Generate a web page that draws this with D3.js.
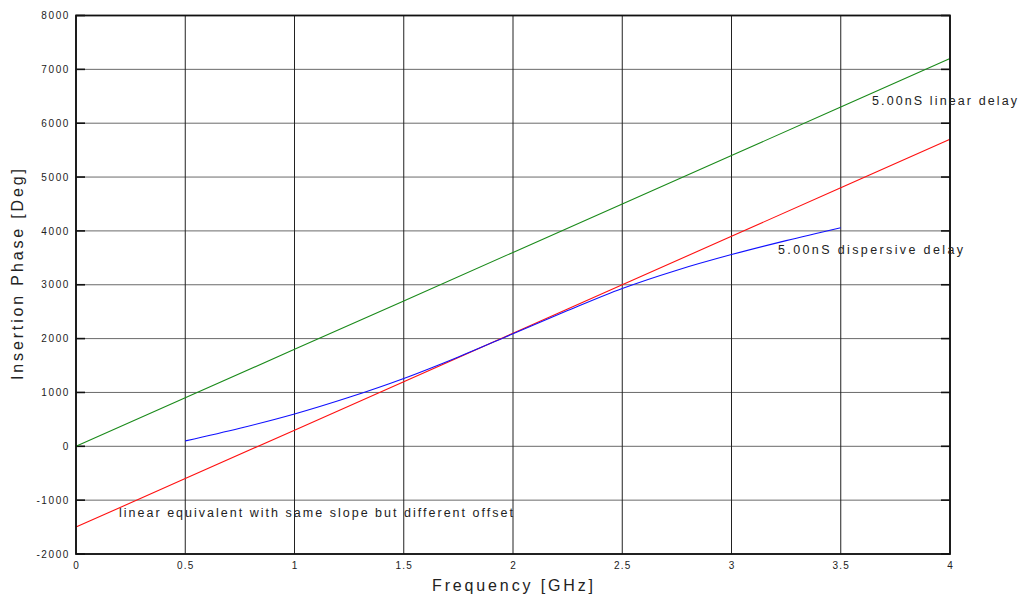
<!DOCTYPE html>
<html><head><meta charset="utf-8">
<script src="https://cdn.jsdelivr.net/npm/d3@7"></script>
<style>body{margin:0;background:#fff}svg{display:block}text{font-family:"Liberation Sans",Arial,sans-serif;fill:#222}</style>
</head><body>
<svg id="c" width="1021" height="597"></svg>
<script>
const freqLin = [0, 0.5, 1, 1.5, 2, 2.5, 3, 3.5, 4];
const linearDelay = [0, 900, 1800, 2700, 3600, 4500, 5400, 6300, 7200];
const linearEquiv = [-1500, -600, 300, 1200, 2100, 3000, 3900, 4800, 5700];
const freqDisp = [0.5, 0.75, 1, 1.25, 1.5, 1.75, 2, 2.25, 2.5, 2.75, 3, 3.25, 3.5];
const dispersive = [100, 335, 600, 910, 1260, 1660, 2090, 2520, 2930, 3270, 3560, 3820, 4060];
const xTicks = [0, 0.5, 1, 1.5, 2, 2.5, 3, 3.5, 4];
const yTicks = [-2000, -1000, 0, 1000, 2000, 3000, 4000, 5000, 6000, 7000, 8000];

const svg = d3.select('#c');
const L = 76, R = 950, T = 15.5, B = 554;
const x = d3.scaleLinear().domain([0, 4]).range([L, R]);
const y = d3.scaleLinear().domain([-2000, 8000]).range([B, T]);

// grid
svg.append('g').selectAll('line').data(yTicks).join('line')
  .attr('x1', L).attr('x2', R).attr('y1', d => y(d)).attr('y2', d => y(d))
  .attr('stroke', '#6a6a6a').attr('stroke-width', 1);
svg.append('g').selectAll('line').data(xTicks).join('line')
  .attr('y1', T).attr('y2', B).attr('x1', d => x(d)).attr('x2', d => x(d))
  .attr('stroke', '#222').attr('stroke-width', 1);
// inner ticks
svg.append('g').selectAll('line').data(yTicks).join('line')
  .attr('x1', L).attr('x2', L + 9).attr('y1', d => y(d)).attr('y2', d => y(d))
  .attr('stroke', '#111').attr('stroke-width', 1.6);
svg.append('g').selectAll('line').data(yTicks).join('line')
  .attr('x1', R - 9).attr('x2', R).attr('y1', d => y(d)).attr('y2', d => y(d))
  .attr('stroke', '#111').attr('stroke-width', 1.6);

// tick labels
const yAxis = d3.axisLeft(y).tickValues(yTicks).tickSize(0).tickPadding(6).tickFormat(d => String(d));
const ga = svg.append('g').attr('transform', `translate(${L},0)`).call(yAxis);
ga.select('.domain').remove();
ga.selectAll('text').style('font-size', '10px').style('letter-spacing', '1.6px').attr('fill', '#1a1a1a')
  .attr('font-family', null);
const xAxis = d3.axisBottom(x).tickValues(xTicks).tickSize(0).tickPadding(8).tickFormat(d => String(d));
const gb = svg.append('g').attr('transform', `translate(0,${B})`).call(xAxis);
gb.select('.domain').remove();
gb.selectAll('text').style('font-size', '10px').style('letter-spacing', '1.2px').attr('fill', '#1a1a1a').attr('font-family', null);

// lines
const line = (xs) => d3.line().x((d, i) => x(xs[i])).y(d => y(d));
svg.append('path').datum(linearDelay).attr('d', line(freqLin)).attr('fill', 'none').attr('stroke', '#1a8a1a').attr('stroke-width', 1.1);
svg.append('path').datum(linearEquiv).attr('d', line(freqLin)).attr('fill', 'none').attr('stroke', '#ff1010').attr('stroke-width', 1.1);
svg.append('path').datum(dispersive).attr('d', d3.line().curve(d3.curveMonotoneX).x((d, i) => x(freqDisp[i])).y(d => y(d))).attr('fill', 'none').attr('stroke', '#1010ff').attr('stroke-width', 1.1);

// frame
svg.append('rect').attr('x', L).attr('y', T).attr('width', R - L).attr('height', B - T)
  .attr('fill', 'none').attr('stroke', '#111').attr('stroke-width', 1.8);

// annotations
function label(t, px, py, len, size) {
  svg.append('text').attr('x', px).attr('y', py).attr('textLength', len).attr('lengthAdjust', 'spacing')
    .style('font-size', size + 'px').text(t);
}
label('5.00nS linear delay', 872, 105, 145, 12.5);
label('5.00nS dispersive delay', 778, 254, 185, 12.5);
label('linear equivalent with same slope but different offset', 119, 517, 394, 12.5);
label('Frequency [GHz]', 432, 591, 161, 16);
svg.append('text').attr('transform', 'translate(23,380) rotate(-90)').attr('textLength', 211).attr('lengthAdjust', 'spacing')
  .style('font-size', '16px').text('Insertion Phase [Deg]');
</script>
</body></html>
